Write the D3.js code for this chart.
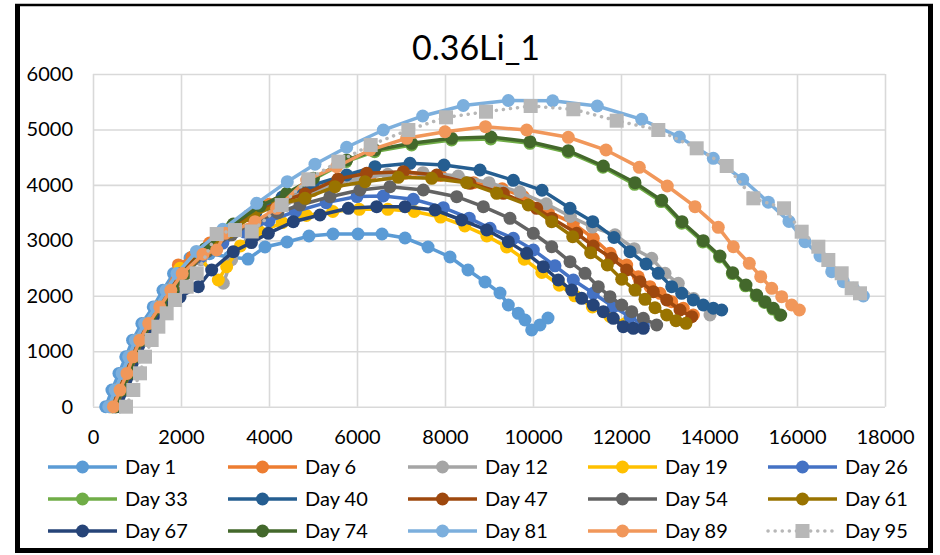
<!DOCTYPE html>
<html><head><meta charset="utf-8">
<script src="https://cdn.jsdelivr.net/npm/d3@7"></script>
<style>
body{margin:0;background:#fff;}
text{font-family:Lato,"Open Sans",sans-serif;fill:#000;}
</style></head><body><svg id="c" width="940" height="555"></svg>
<script>
// ---- data ----
const title = "0.36Li_1";
const seriesNames = ["Day 1","Day 6","Day 12","Day 19","Day 26","Day 33","Day 40","Day 47","Day 54","Day 61","Day 67","Day 74","Day 81","Day 89","Day 95"];
const xTicks = [0,2000,4000,6000,8000,10000,12000,14000,16000,18000];
const yTicks = [0,1000,2000,3000,4000,5000,6000];

const day1 = [[290,0],[430,300],[590,600],[745,900],[900,1200],[1110,1500],[1370,1800],[1590,2100],[1830,2400],[2205,2682],[2650,2760],[3100,2700],[3523,2663],[3909,2880],[4409,2970],[4909,3078],[5455,3114],[6023,3114],[6568,3114],[7091,3042],[7614,2880],[8114,2700],[8523,2465],[8909,2249],[9250,2051],[9439,1834],[9666,1684],[9818,1564],[9970,1384],[10159,1474],[10341,1600]];
const day6 = [[382,0],[527,300],[686,600],[832,900],[987,1200],[1192,1500],[1448,1800],[1684,2100],[1939,2556],[2250,2700],[2650,2950],[3100,3200],[3550,3450],[4000,3650],[4500,3780],[5000,3900],[5600,4060],[6300,4160],[7100,4210],[7900,4170],[8650,4040],[9300,3930],[9780,3790],[10348,3517],[10916,3307],[11370,3037],[11750,2766],[12129,2555],[12393,2344],[12659,2164],[12886,2045],[13152,1894],[13416,1775],[13643,1654]];
const day12 = [[428,0],[576,300],[733,600],[876,900],[1030,1200],[1233,1500],[1487,1800],[1731,2100],[1986,2400],[2450,2650],[2962,2226],[3150,2650],[3600,3150],[4100,3500],[4700,3780],[5300,3970],[5950,4100],[6700,4190],[7500,4220],[8300,4160],[9000,4040],[9700,3870],[10300,3660],[10850,3430],[11350,3240],[11864,3100],[12300,2850],[12698,2676],[13000,2406],[13302,2225],[13650,1950],[14023,1654]];
const day19 = [[405,0],[552,300],[710,600],[854,900],[1008,1200],[1213,1500],[1468,1800],[1708,2100],[1977,2496],[2400,2720],[2848,2285],[3038,2525],[3350,2900],[3800,3150],[4300,3320],[4850,3450],[5450,3520],[6050,3560],[6700,3560],[7300,3520],[7900,3420],[8450,3260],[8950,3080],[9400,2880],[9800,2660],[10200,2420],[10600,2190],[10950,2000],[11350,1800],[11750,1630],[12100,1500]];
const day26 = [[474,0],[624,300],[781,600],[920,900],[1073,1200],[1274,1500],[1526,1800],[1778,2100],[2038,2400],[2450,2700],[2950,2950],[3450,3150],[4000,3350],[4600,3520],[5300,3680],[6000,3790],[6598,3800],[7280,3740],[7962,3590],[8550,3400],[9023,3217],[9553,3037],[10007,2826],[10500,2540],[10916,2285],[11370,2045],[11825,1803],[12205,1623],[12507,1473]];
const day33 = [[451,0],[600,300],[757,600],[898,900],[1052,1200],[1254,1500],[1507,1800],[1755,2100],[2012,2400],[2500,2800],[3150,3250],[3750,3600],[4400,3830],[5000,4100],[5750,4420],[6400,4600],[7240,4720],[8150,4810],[9040,4830],[9930,4750],[10800,4590],[11590,4320],[12310,4010],[12910,3700],[13380,3310],[13860,2970],[14240,2700],[14530,2400],[14830,2180],[15070,2000],[15260,1880],[15450,1760],[15610,1650]];
const day40 = [[497,0],[649,300],[805,600],[942,900],[1095,1200],[1295,1500],[1546,1800],[1802,2100],[2064,2400],[2550,2800],[3100,3150],[3700,3500],[4300,3780],[5000,4000],[5766,4179],[6409,4328],[7205,4389],[7977,4359],[8795,4269],[9553,4083],[10205,3903],[10841,3578],[11357,3336],[11841,3051],[12205,2795],[12568,2573],[12848,2406],[13152,2164],[13379,2045],[13643,1924],[13870,1834],[14098,1775],[14288,1744]];
const day47 = [[440,0],[590,300],[745,600],[887,900],[1040,1200],[1243,1500],[1497,1800],[1743,2100],[2000,2400],[2450,2780],[3000,3150],[3550,3450],[4200,3680],[4818,3840],[5568,4106],[6220,4209],[7053,4238],[7811,4178],[8568,4029],[9326,3848],[10083,3578],[10425,3400],[10993,3127],[11370,2898],[11789,2676],[12129,2465],[12432,2254],[12734,2074],[13039,1924],[13341,1744],[13607,1623]];
const day54 = [[543,0],[697,300],[853,600],[985,900],[1138,1200],[1336,1500],[1585,1800],[1849,2100],[2116,2400],[2600,2800],[3150,3100],[3700,3350],[4200,3500],[4705,3637],[5386,3787],[6068,3908],[6750,3968],[7507,3908],[8266,3787],[8871,3607],[9477,3398],[10007,3127],[10425,2885],[10841,2615],[11182,2406],[11484,2164],[11750,1984],[12016,1834],[12243,1713],[12507,1594],[12811,1473]];
const day61 = [[520,0],[673,300],[829,600],[964,900],[1117,1200],[1315,1500],[1565,1800],[1825,2100],[2090,2400],[2550,2800],[3100,3150],[3650,3450],[4200,3650],[4818,3758],[5500,3968],[6182,4058],[6939,4137],[7697,4119],[8492,4040],[9175,3848],[9894,3637],[10425,3336],[10902,3066],[11311,2777],[11689,2555],[12016,2298],[12318,2104],[12545,1937],[12773,1785],[13039,1654],[13250,1551],[13477,1504]];
const day67 = [[612,0],[770,300],[925,600],[1051,900],[1203,1200],[1397,1500],[1643,1800],[1977,1980],[2394,2164],[2697,2465],[3189,2795],[3600,2960],[3985,3127],[4553,3336],[5159,3457],[5803,3578],[6447,3607],[7091,3607],[7773,3547],[8379,3367],[8947,3187],[9439,2976],[9856,2766],[10235,2525],[10575,2285],[10879,2104],[11106,1955],[11370,1834],[11598,1713],[11825,1594],[12052,1443],[12280,1414],[12507,1414]];
const day74 = [[510,0],[663,300],[820,600],[955,900],[1108,1200],[1307,1500],[1557,1800],[1815,2100],[2080,2400],[2550,2850],[3189,3295],[3800,3620],[4402,3848],[5007,4119],[5766,4449],[6409,4629],[7243,4750],[8152,4840],[9045,4864],[9932,4779],[10802,4617],[11598,4341],[12318,4040],[12925,3722],[13386,3336],[13870,2994],[14250,2718],[14538,2417],[14841,2195],[15084,2014],[15273,1894],[15461,1775],[15630,1654]];
const day81 = [[359,0],[503,300],[662,600],[811,900],[965,1200],[1172,1500],[1429,1800],[1661,2100],[1908,2400],[2350,2800],[2950,3200],[3720,3668],[4416,4058],[5045,4373],[5765,4679],[6598,4990],[7493,5243],[8416,5432],[9439,5522],[10447,5518],[11461,5423],[12470,5183],[13325,4864],[14098,4480],[14766,4101],[15348,3688],[15818,3342],[16182,2976],[16523,2718],[16789,2435],[17053,2254],[17280,2135],[17507,1996]];
const day89 = [[465,0],[615,300],[772,600],[912,900],[1065,1200],[1266,1500],[1517,1800],[1769,2100],[2028,2400],[2500,2750],[2811,2826],[3000,3127],[3682,3336],[4175,3578],[4856,4088],[5538,4328],[6295,4629],[7129,4840],[8000,4959],[8920,5050],[9856,4990],[10802,4858],[11659,4629],[12416,4317],[13052,3980],[13682,3607],[14211,3235],[14553,2885],[14916,2586],[15175,2345],[15425,2135],[15652,1984],[15879,1834],[16053,1744]];
const day95 = [[750,0],[916,301],[1068,602],[1182,902],[1333,1203],[1485,1443],[1674,1684],[1864,1924],[2129,2164],[2357,2405],[2811,3114],[3227,3186],[3607,3160],[4288,3637],[4894,4101],[5576,4419],[6311,4719],[7167,4990],[8023,5219],[8932,5320],[9947,5423],[10917,5364],[11902,5158],[12848,4990],[13720,4660],[14402,4341],[15008,3758],[15705,3578],[16106,3156],[16485,2885],[16712,2646],[17015,2406],[17242,2135],[17432,2045]];

const seriesData = [day1,day6,day12,day19,day26,day33,day40,day47,day54,day61,day67,day74,day81,day89,day95];

// ---- styles ----
const colors = ["#5B9BD5","#ED7D31","#A5A5A5","#FFC000","#4472C4","#70AD47","#255E91","#9E480E","#636363","#997300","#264478","#43682B","#7CAFDD","#F1975A","#B7B7B7"];

const svg = d3.select("#c");
svg.append("rect").attr("width",940).attr("height",555).attr("fill","#fff");

const x = d3.scaleLinear().domain([0,18000]).range([93,885]);
const y = d3.scaleLinear().domain([0,6000]).range([406.7,74]);

// gridlines + labels
const gx = svg.append("g").attr("transform","translate(0,406.7)")
  .call(d3.axisBottom(x).tickValues(xTicks).tickFormat(d3.format("d")).tickSize(-(406.7-74)).tickPadding(23));
const gy = svg.append("g").attr("transform","translate(93,0)")
  .call(d3.axisLeft(y).tickValues(yTicks).tickFormat(d3.format("d")).tickSize(-(885-93)).tickPadding(20));
[gx,gy].forEach(g=>{
  g.select(".domain").remove();
  g.selectAll(".tick line").attr("stroke","#D9D9D9").attr("stroke-width",1.6);
  g.selectAll(".tick text").style("font-size","20px").style("font-family","Lato, sans-serif").attr("fill","#000");
});

// title
svg.append("text").attr("x",476).attr("y",60).attr("text-anchor","middle")
  .style("font-size","34px").text(title);

const line = d3.line().x(d=>x(d[0])).y(d=>y(d[1]));
seriesData.forEach((data,i)=>{
  const g = svg.append("g");
  const isDot = i===14;
  g.append("path").datum(data).attr("d",line).attr("fill","none")
    .attr("stroke",colors[i]).attr("stroke-width",isDot?3.5:3.5)
    .attr("stroke-linecap",isDot?"round":"butt")
    .attr("stroke-dasharray",isDot?"0.1 7":null);
  if(isDot){
    g.selectAll("rect").data(data).join("rect")
      .attr("x",d=>x(d[0])-7).attr("y",d=>y(d[1])-7).attr("width",14).attr("height",14)
      .attr("fill",colors[i]);
  } else {
    g.selectAll("circle").data(data).join("circle")
      .attr("cx",d=>x(d[0])).attr("cy",d=>y(d[1])).attr("r",6.5).attr("fill",colors[i]);
  }
});

// legend
const leg = svg.append("g");
seriesNames.forEach((name,i)=>{
  const col = i%5, row = Math.floor(i/5);
  const x0 = 48 + col*180, yy = 467 + row*32;
  const isDot = i===14;
  leg.append("line").attr("x1",x0).attr("x2",x0+69).attr("y1",yy).attr("y2",yy)
    .attr("stroke",colors[i]).attr("stroke-width",3.5)
    .attr("stroke-linecap",isDot?"round":"butt").attr("stroke-dasharray",isDot?"0.1 7":null);
  if(isDot){
    leg.append("rect").attr("x",x0+34.5-7).attr("y",yy-7).attr("width",14).attr("height",14).attr("fill",colors[i]);
  } else {
    leg.append("circle").attr("cx",x0+34.5).attr("cy",yy).attr("r",6.5).attr("fill",colors[i]);
  }
  leg.append("text").attr("x",x0+77).attr("y",yy).attr("dy","0.35em")
    .style("font-size","20px").text(name);
});

// frame
svg.append("line").attr("x1",17.5).attr("x2",17.5).attr("y1",4).attr("y2",553).attr("stroke","#000").attr("stroke-width",5);
svg.append("line").attr("x1",15).attr("x2",933).attr("y1",5).attr("y2",5).attr("stroke","#000").attr("stroke-width",2.5);
svg.append("line").attr("x1",930.5).attr("x2",930.5).attr("y1",4).attr("y2",553).attr("stroke","#000").attr("stroke-width",5);
svg.append("line").attr("x1",15).attr("x2",933).attr("y1",550.5).attr("y2",550.5).attr("stroke","#000").attr("stroke-width",5);
</script></body></html>
